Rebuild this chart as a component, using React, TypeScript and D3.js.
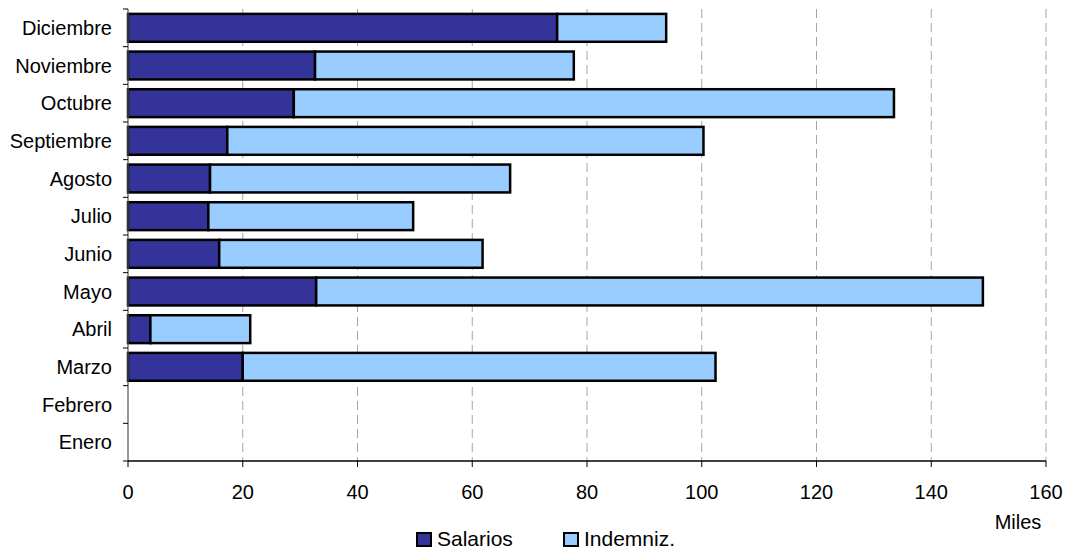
import * as d3 from "d3";
import { useEffect, useRef } from "react";

const months = [
	"Enero",
	"Febrero",
	"Marzo",
	"Abril",
	"Mayo",
	"Junio",
	"Julio",
	"Agosto",
	"Septiembre",
	"Octubre",
	"Noviembre",
	"Diciembre",
];
const salarios = [0, 0, 20.0, 3.9, 32.8, 15.9, 14.0, 14.3, 17.3, 28.9, 32.6, 74.8];
const indemniz = [0, 0, 82.4, 17.4, 116.2, 45.9, 35.7, 52.3, 83.0, 104.6, 45.1, 19.0];
const xTicks = [0, 20, 40, 60, 80, 100, 120, 140, 160];
const seriesNames = ["Salarios", "Indemniz."];
const seriesColors = ["#333399", "#99CCFF"];

function App() {
	const ref = useRef<SVGSVGElement>(null);

	useEffect(() => {
		document.body.style.margin = "0";
		const svg = d3.select(ref.current);
		svg.selectAll("*").remove();

		const left = 128;
		const right = 1046;
		const top = 9;
		const bottom = 461;
		const font = "'Liberation Sans', Arial, sans-serif";

		const x = d3.scaleLinear().domain([0, 160]).range([left, right]);
		// Enero at the bottom, Diciembre at the top
		const y = d3
			.scaleBand()
			.domain(months.slice().reverse())
			.range([top, bottom])
			.paddingInner(0.26)
			.paddingOuter(0.13);
		const step = y.step();

		// dashed gridlines
		svg.append("g")
			.selectAll("line")
			.data(xTicks.slice(1))
			.enter()
			.append("line")
			.attr("x1", (d) => x(d))
			.attr("x2", (d) => x(d))
			.attr("y1", top)
			.attr("y2", bottom)
			.attr("stroke", "#a6a6a6")
			.attr("stroke-width", 1)
			.attr("stroke-dasharray", "9,5");

		// bars
		const data = months.map((m, i) => ({ month: m, sal: salarios[i], ind: indemniz[i] }));
		const bars = svg.append("g");
		data.forEach((d) => {
			if (d.sal + d.ind <= 0) return;
			const yy = y(d.month) as number;
			bars.append("rect")
				.attr("x", x(0))
				.attr("y", yy)
				.attr("width", x(d.sal) - x(0))
				.attr("height", y.bandwidth())
				.attr("fill", seriesColors[0])
				.attr("stroke", "#000")
				.attr("stroke-width", 2.5);
			bars.append("rect")
				.attr("x", x(d.sal))
				.attr("y", yy)
				.attr("width", x(d.sal + d.ind) - x(d.sal))
				.attr("height", y.bandwidth())
				.attr("fill", seriesColors[1])
				.attr("stroke", "#000")
				.attr("stroke-width", 2.5);
		});

		// y axis
		const yAxis = svg.append("g");
		yAxis.append("line")
			.attr("x1", left)
			.attr("x2", left)
			.attr("y1", top)
			.attr("y2", bottom)
			.attr("stroke", "#555")
			.attr("stroke-width", 1.2);
		yAxis.selectAll(".ytick")
			.data(d3.range(months.length + 1))
			.enter()
			.append("line")
			.attr("x1", left - 5)
			.attr("x2", left)
			.attr("y1", (i) => top + i * step)
			.attr("y2", (i) => top + i * step)
			.attr("stroke", "#000");
		yAxis.selectAll(".ylabel")
			.data(months)
			.enter()
			.append("text")
			.attr("x", 112)
			.attr("y", (d) => (y(d) as number) + y.bandwidth() / 2)
			.attr("dy", "0.36em")
			.attr("text-anchor", "end")
			.style("font-family", font)
			.style("font-size", "20px")
			.attr("fill", "#000")
			.text((d) => d);

		// x axis
		const xAxis = svg.append("g");
		xAxis.append("line")
			.attr("x1", left)
			.attr("x2", right)
			.attr("y1", bottom)
			.attr("y2", bottom)
			.attr("stroke", "#000")
			.attr("stroke-width", 1.3);
		xAxis.selectAll(".xtick")
			.data(xTicks)
			.enter()
			.append("line")
			.attr("x1", (d) => x(d))
			.attr("x2", (d) => x(d))
			.attr("y1", bottom)
			.attr("y2", bottom + 6)
			.attr("stroke", "#000");
		xAxis.selectAll(".xlabel")
			.data(xTicks)
			.enter()
			.append("text")
			.attr("x", (d) => x(d))
			.attr("y", 499)
			.attr("text-anchor", "middle")
			.style("font-family", font)
			.style("font-size", "20px")
			.attr("fill", "#000")
			.text((d) => String(d));

		svg.append("text")
			.attr("x", 1018)
			.attr("y", 529)
			.attr("text-anchor", "middle")
			.style("font-family", font)
			.style("font-size", "20px")
			.text("Miles");

		// legend
		const legendX = [417, 564];
		seriesNames.forEach((name, i) => {
			svg.append("rect")
				.attr("x", legendX[i])
				.attr("y", 533)
				.attr("width", 14)
				.attr("height", 13)
				.attr("fill", seriesColors[i])
				.attr("stroke", "#000")
				.attr("stroke-width", 2);
			svg.append("text")
				.attr("x", legendX[i] + 20)
				.attr("y", 546)
				.style("font-family", font)
				.style("font-size", "21px")
				.text(name);
		});
	}, []);

	return <svg ref={ref} width={1067} height={552} style={{ display: "block", background: "#fff" }}></svg>;
}

export default App;
